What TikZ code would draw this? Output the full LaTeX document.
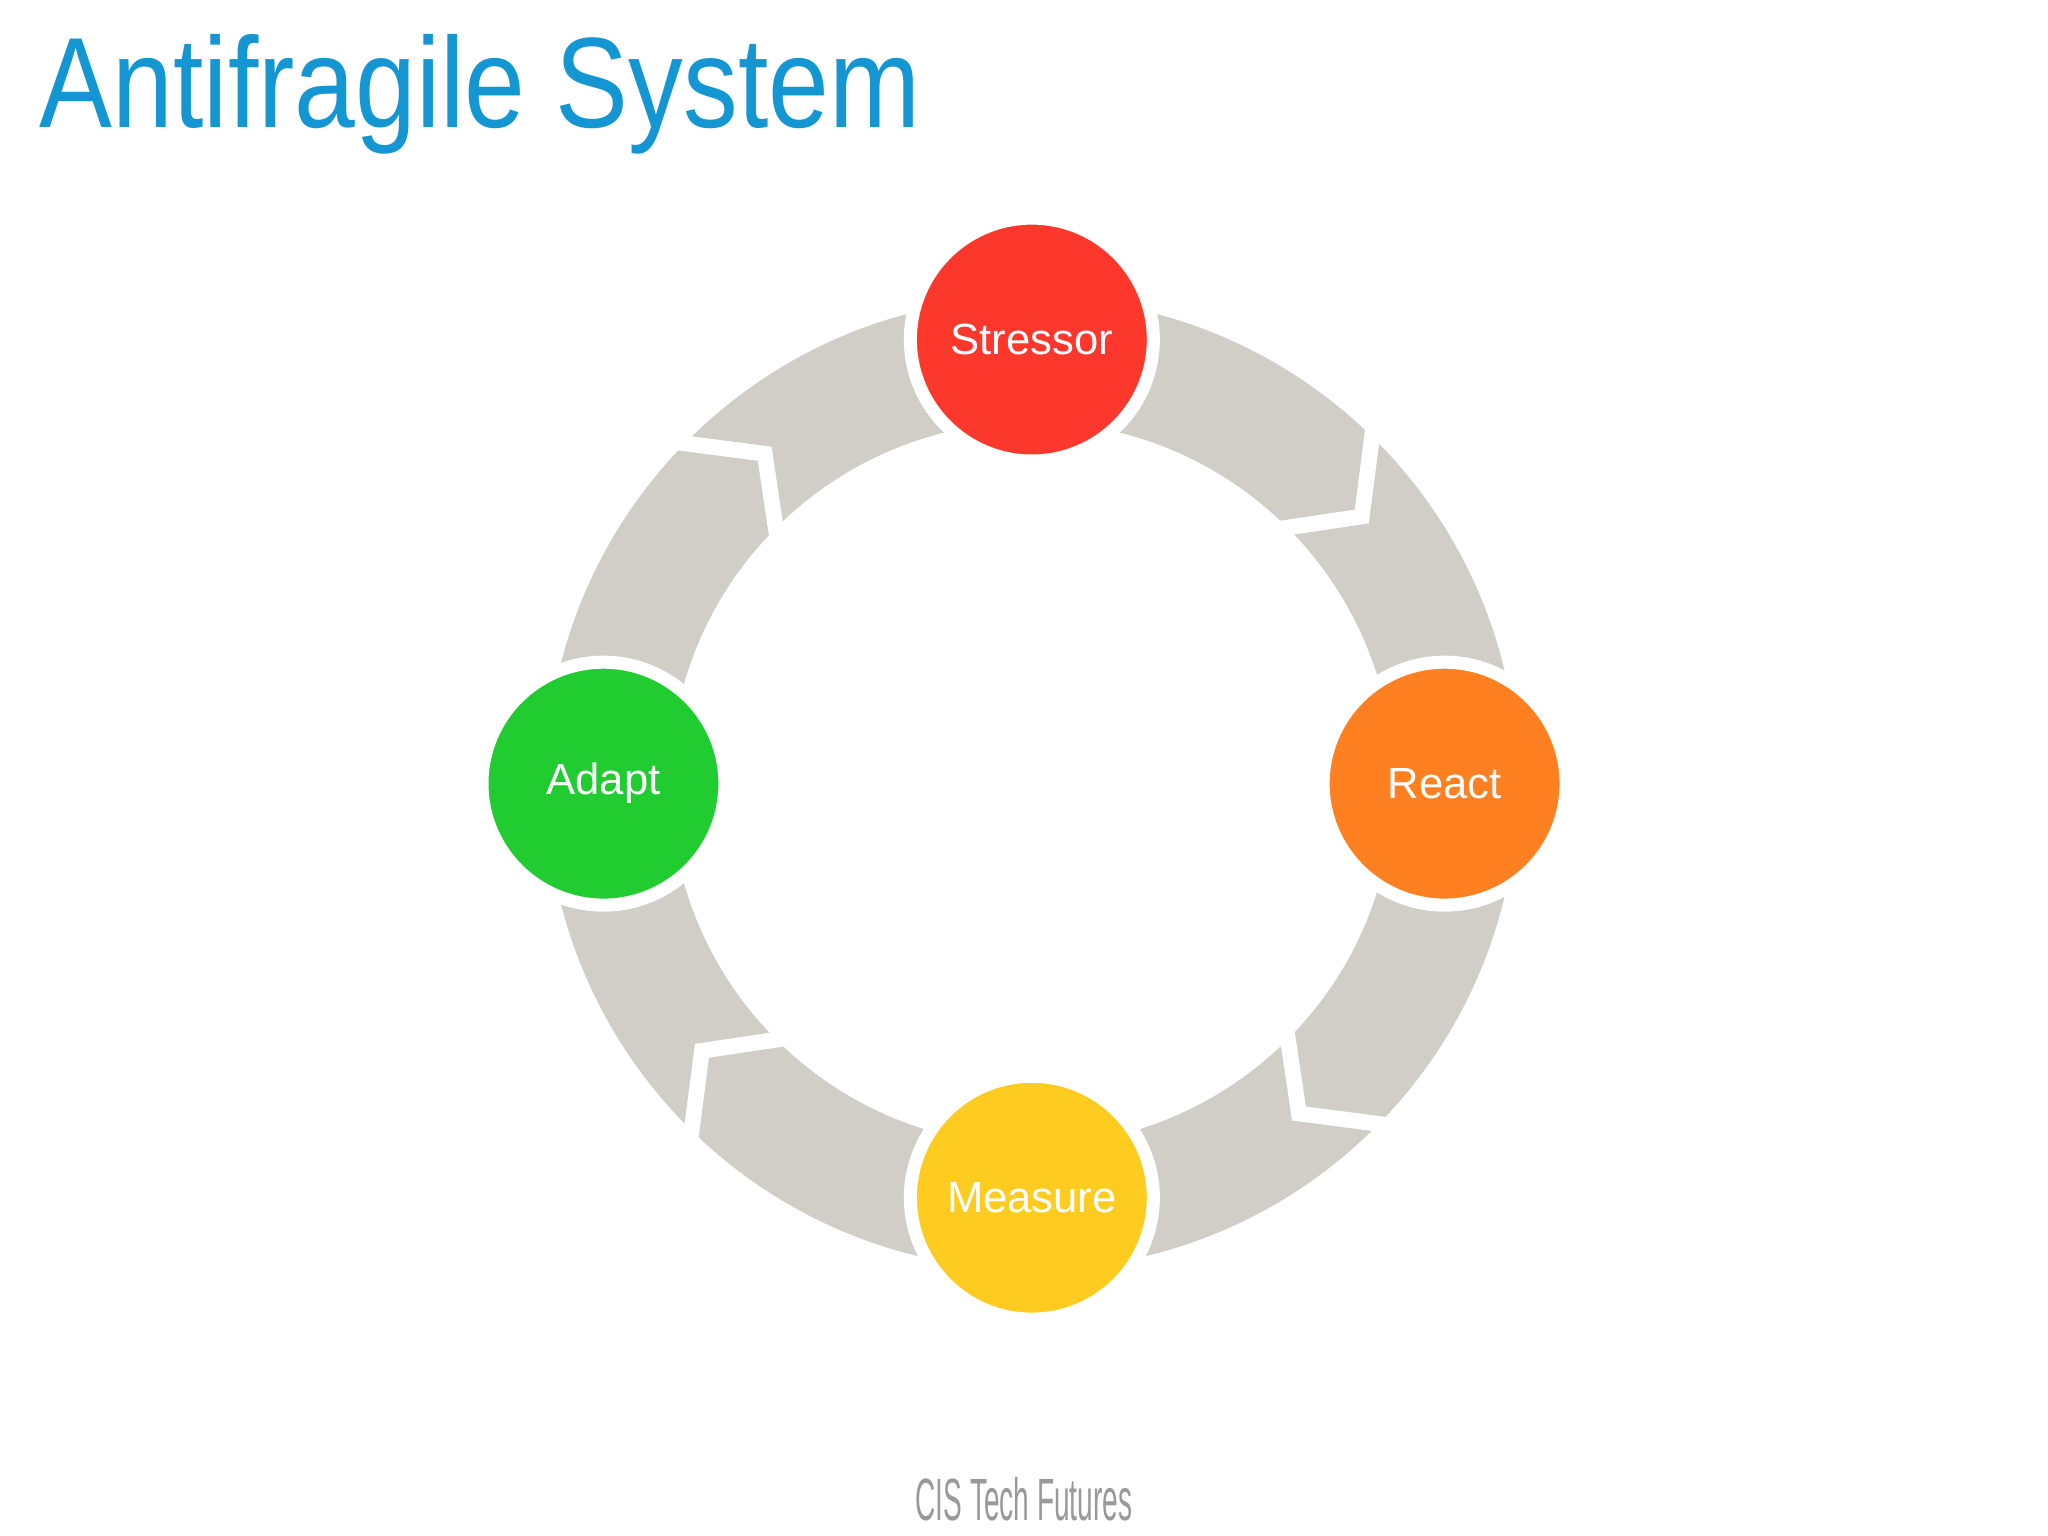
\documentclass[tikz,border=0pt]{standalone}
\usepackage{fontspec}
\setmainfont{Liberation Sans}
\definecolor{ttl}{RGB}{20,150,210}
\definecolor{ring}{RGB}{208,206,198}
\definecolor{cred}{RGB}{252,56,44}
\definecolor{corange}{RGB}{254,128,32}
\definecolor{cyellow}{RGB}{254,204,32}
\definecolor{cgreen}{RGB}{32,204,48}
\begin{document}
\begin{tikzpicture}
\tikzset{
  stage/.style={circle, fill=#1, draw=white, line width=0.1cm, minimum size=1.86cm, inner sep=0pt, text=white, font=\fontsize{9.5pt}{11pt}\selectfont},
  cut/.style={white, line width=0.12cm, line join=miter}
}
\useasboundingbox (0,0) rectangle (15.68,11.76);
\fill[white] (0,0) rectangle (15.68,11.76);
\node[anchor=base west, text=ttl, font=\fontsize{28pt}{30pt}\selectfont, xscale=0.85, inner sep=0pt] (title) at (0.30,10.78) {Antifragile System};
\begin{scope}[shift={(7.90,5.76)}]
  \fill[ring, even odd rule] (0,0) circle (3.72) (0,0) circle (2.77);
  \foreach \a in {45,-45,-135,135}{
    \draw[cut] (\a+2:3.85) -- (\a-6:3.25) -- (\a+2:2.65);
  }
  \node[stage=cred] (stressor) at (90:3.40) {Stressor};
  \node[stage=corange] (react) at (0:3.16) {React};
  \node[stage=cyellow] (measure) at (-90:3.17) {Measure};
  \node[stage=cgreen] (adapt) at (180:3.28) {Adapt};
\end{scope}
\node[text=gray!80, font=\fontsize{13pt}{14pt}\selectfont, xscale=0.47, inner sep=0pt] (footer) at (7.84,0.28) {CIS Tech Futures};
\end{tikzpicture}
\end{document}
